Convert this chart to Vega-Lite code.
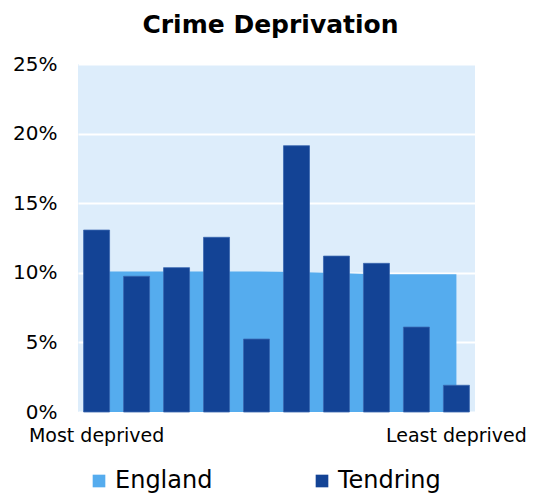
{
  "$schema": "https://vega.github.io/schema/vega-lite/v6.json",
  "autosize": {"type": "none"},
  "padding": {"left": 78, "top": 64, "right": 60, "bottom": 82},
  "width": 397,
  "height": 348,
  "background": "white",
  "title": {
    "text": "Crime Deprivation",
    "font": "DejaVu Sans",
    "fontSize": 25,
    "fontWeight": "bold",
    "color": "#000000",
    "anchor": "middle",
    "dx": -6,
    "offset": 16
  },
  "data": {
    "values": [
      {"decile": 1, "series": "England", "value": 0.101},
      {"decile": 2, "series": "England", "value": 0.101},
      {"decile": 3, "series": "England", "value": 0.101},
      {"decile": 4, "series": "England", "value": 0.101},
      {"decile": 5, "series": "England", "value": 0.101},
      {"decile": 6, "series": "England", "value": 0.1005},
      {"decile": 7, "series": "England", "value": 0.0998},
      {"decile": 8, "series": "England", "value": 0.099},
      {"decile": 9, "series": "England", "value": 0.099},
      {"decile": 10, "series": "England", "value": 0.099},
      {"decile": 1, "series": "Tendring", "value": 0.1307},
      {"decile": 2, "series": "Tendring", "value": 0.0975},
      {"decile": 3, "series": "Tendring", "value": 0.1037},
      {"decile": 4, "series": "Tendring", "value": 0.1255},
      {"decile": 5, "series": "Tendring", "value": 0.0524},
      {"decile": 6, "series": "Tendring", "value": 0.1913},
      {"decile": 7, "series": "Tendring", "value": 0.112},
      {"decile": 8, "series": "Tendring", "value": 0.1068},
      {"decile": 9, "series": "Tendring", "value": 0.061},
      {"decile": 10, "series": "Tendring", "value": 0.0192}
    ]
  },
  "encoding": {
    "x": {
      "field": "decile",
      "type": "ordinal",
      "scale": {"paddingInner": 0.35, "paddingOuter": 0.14},
      "axis": {
        "title": null,
        "labelAngle": 0,
        "labelExpr": "datum.value == 1 ? 'Most deprived' : datum.value == 10 ? 'Least deprived' : ''",
        "labelFont": "DejaVu Sans",
        "labelFontSize": 19,
        "labelColor": "#000000",
        "labelPadding": 14,
        "labelOverlap": false,
        "labelBound": false,
        "domain": false,
        "ticks": false,
        "grid": false
      }
    },
    "y": {
      "field": "value",
      "type": "quantitative",
      "scale": {"domain": [0, 0.25]},
      "axis": {
        "title": null,
        "format": ".0%",
        "values": [0, 0.05, 0.1, 0.15, 0.2, 0.25],
        "labelFont": "DejaVu Sans",
        "labelFontSize": 20,
        "labelColor": "#000000",
        "labelPadding": 21,
        "domain": false,
        "ticks": false,
        "grid": true,
        "gridColor": "#FFFFFF",
        "gridWidth": 2
      }
    },
    "color": {
      "field": "series",
      "type": "nominal",
      "scale": {"domain": ["England", "Tendring"], "range": ["#55ACEE", "#134395"]},
      "legend": {
        "title": null,
        "orient": "none",
        "direction": "horizontal",
        "legendX": 9,
        "legendY": 405,
        "symbolType": "square",
        "symbolSize": 160,
        "symbolStrokeWidth": 0,
        "symbolOpacity": 1,
        "labelFont": "DejaVu Sans",
        "labelFontSize": 24,
        "labelColor": "#000000",
        "labelOffset": 4,
        "columnPadding": 97
      }
    }
  },
  "layer": [
    {
      "transform": [{"filter": "datum.series == 'England'"}],
      "mark": {"type": "area", "opacity": 1},
      "encoding": {
        "x": {"field": "decile", "type": "ordinal", "bandPosition": 0.5}
      }
    },
    {
      "transform": [{"filter": "datum.series == 'Tendring'"}],
      "mark": {"type": "bar", "stroke": "#3A67B0", "strokeWidth": 0.8}
    }
  ],
  "config": {
    "view": {"fill": "#DDEDFB", "stroke": null}
  }
}
